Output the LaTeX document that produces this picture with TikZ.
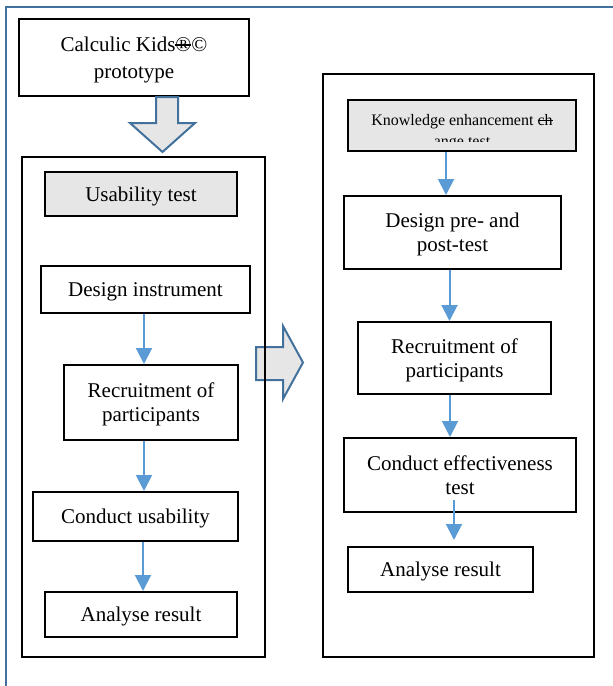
\documentclass[tikz,border=0pt]{standalone}
\usepackage{fontspec}
\setmainfont{Liberation Serif}
\usetikzlibrary{arrows.meta}
\newcommand{\strk}[1]{\leavevmode\setbox0\hbox{#1}\rlap{\rule[0.27em]{\wd0}{0.06em}}\box0}
\definecolor{frameblue}{RGB}{65,113,156}
\definecolor{arrblue}{RGB}{91,155,213}
\definecolor{boxgray}{RGB}{231,230,230}
\begin{document}
\begin{tikzpicture}[x=1pt,y=-1pt,
  box/.style={draw=black,line width=2pt,inner sep=0pt,align=center,text depth=0pt,
    font=\fontsize{21}{24}\selectfont},
  graybox/.style={box,fill=boxgray},
  panel/.style={draw=black,line width=2pt,inner sep=0pt},
  arr/.style={draw=arrblue,line width=2pt,-{Triangle[width=16pt,length=16pt]}},
  blockarrow/.style={draw=frameblue,line width=2pt,fill=boxgray,line join=miter}
]
\useasboundingbox (0,0) rectangle (613,686);
% frame
\draw[frameblue,line width=2.5pt] (6,686) -- (6,7) -- (613,7);

% top box
\node[box,minimum width=230pt,minimum height=77pt,font=\fontsize{21}{27}\selectfont] (top) at (134,57.5)
  {Calculic Kids\strk{®}©\\prototype};

% down block arrow
\draw[blockarrow] (top.south -| 156,0) -- (156,123) -- (130,123) -- (162.5,152) -- (195,123) -- (178,123) -- (top.south -| 178,0) -- cycle;

% right block arrow (under the left panel border)
\draw[blockarrow] (256,347) -- (283,347) -- (283,326) -- (303,362.5) -- (283,399) -- (283,380) -- (256,380) -- cycle;

% left panel
\node[panel,minimum width=243pt,minimum height=500pt] (lp) at (143.5,407) {};
\node[graybox,minimum width=192pt,minimum height=44pt] (ut) at (141,194) {Usability test};
\node[box,minimum width=209pt,minimum height=47pt] (di) at (145.5,289.5) {Design instrument};
\node[box,minimum width=174pt,minimum height=75pt] (rp) at (151,402.5) {Recruitment of\\participants};
\node[box,minimum width=205pt,minimum height=49pt] (cu) at (135.5,516.5) {Conduct usability};
\node[box,minimum width=192pt,minimum height=45pt] (ar) at (141,614.5) {Analyse result};

\draw[arr] ([xshift=-1.5pt]di.south) -- ([xshift=-1.5pt]di.south |- rp.north);
\draw[arr] ([xshift=-7pt]rp.south) -- ([xshift=-7pt]rp.south |- cu.north);
\draw[arr] ([xshift=7.5pt]cu.south) -- ([xshift=7.5pt]cu.south |- ar.north);

% right panel
\node[panel,minimum width=271pt,minimum height=583pt] (rpn) at (458.5,365.5) {};

\node[graybox,minimum width=228pt,minimum height=51pt] (ke) at (462,125.5) {};
\begin{scope}
  \clip (349,101) rectangle (575,141.5);
  \node[anchor=base,inner sep=0pt,font=\fontsize{16}{18}\selectfont] (ket) at (462,125) {Knowledge enhancement \strk{ch}};
  \node[anchor=base,inner sep=0pt,font=\fontsize{16}{18}\selectfont] (ket2) at (462,146) {ange test};
\end{scope}
\node[box,minimum width=217pt,minimum height=73pt] (dp) at (452.5,232.5) {Design pre- and\\post-test};
\node[box,minimum width=193pt,minimum height=72pt] (rp2) at (454.5,358) {Recruitment of\\participants};
\node[box,minimum width=232pt,minimum height=74pt] (ce) at (460,475) {Conduct effectiveness\\test};
\node[box,minimum width=185pt,minimum height=45pt] (ar2) at (440.5,569.5) {Analyse result};

\draw[arr] ([xshift=-16pt]ke.south) -- ([xshift=-16pt]ke.south |- dp.north);
\draw[arr] ([xshift=-3pt]dp.south) -- ([xshift=-3pt]dp.south |- rp2.north);
\draw[arr] ([xshift=-4.5pt]rp2.south) -- ([xshift=-4.5pt]rp2.south |- ce.north);
\coordinate (cestart) at (454,500);
\coordinate (ceend) at (454,540);
\draw[arr] (cestart) -- (ceend);
\end{tikzpicture}
\end{document}
